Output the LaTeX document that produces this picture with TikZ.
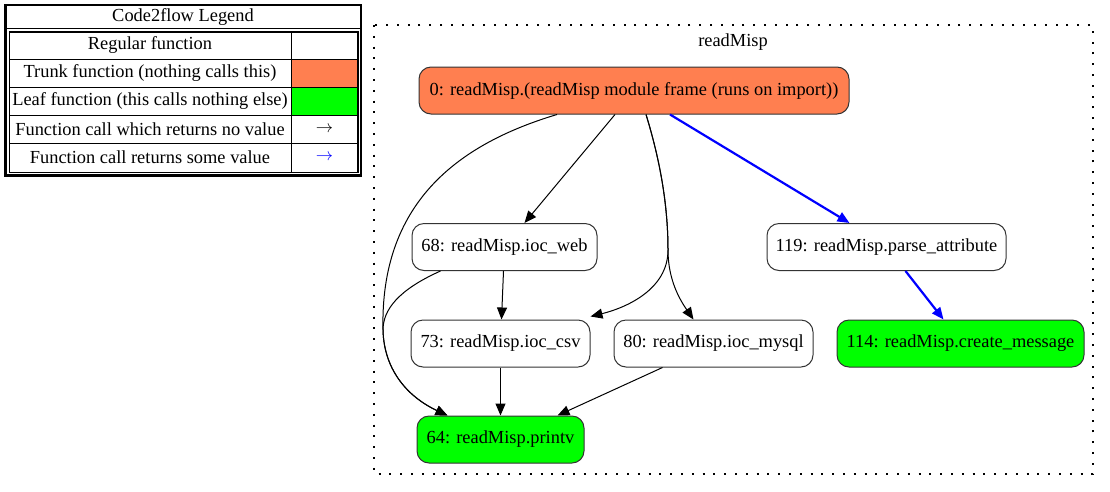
\documentclass[tikz,border=0pt]{standalone}
\usepackage{fontspec}
\setmainfont{Liberation Serif}
\usetikzlibrary{arrows.meta,positioning}
\definecolor{trunk}{HTML}{FF7F50}
\definecolor{leaf}{HTML}{00FF00}
\tikzset{
  func/.style={draw, black!80, text=black, line width=1pt, rounded corners=12pt,
    minimum height=47pt, inner sep=0pt, font=\fontsize{18.4}{21}\selectfont},
  call/.style={-{Triangle[length=12pt,width=10pt]}, line width=1pt},
  retcall/.style={call, blue, line width=2.2pt},
  legtext/.style={inner sep=0pt, font=\fontsize{18.4}{21}\selectfont},
}

\begin{document}
\begin{tikzpicture}[x=1pt, y=-1pt]
  \useasboundingbox (0,0) rectangle (1110,491);
  % legend
  \draw[line width=2.5pt] (5.5,5) rectangle (361,175.5);
  \draw[line width=1pt] (6,28.5) -- (360,28.5);
  \node[legtext] (legtitle) at (183,17.5) {Code2flow Legend};
  \draw[line width=1.8pt] (9.5,32) rectangle (358,172.5);
  \foreach \y in {59,87,115,143} \draw[line width=1pt] (9.5,\y) -- (358,\y);
  \draw[line width=1pt] (291,32) -- (291,172.5);
  \fill[trunk] (291.5,59.5) rectangle (357,86.5);
  \fill[leaf] (291.5,87.5) rectangle (357,114.5);
  \node[legtext] (reg) at (150,45) {Regular function};
  \node[legtext] (trk) at (150,73) {Trunk function (nothing calls this)};
  \node[legtext] (lf) at (150,101) {Leaf function (this calls nothing else)};
  \node[legtext] (noval) at (150,129) {Function call which returns no value};
  \node[legtext] (val) at (150,157.5) {Function call returns some value};
  \node[legtext] (novalarr) at (324.5,129) {$\rightarrow$};
  \node[legtext, text=blue] (valarr) at (324.5,157.5) {$\rightarrow$};

  % cluster
  \draw[line width=1.3pt, dash pattern=on 2pt off 8.8pt] (374,25) rectangle (1093,474);
  \node[legtext] (mod) at (733,42) {readMisp};

  \node[func, fill=trunk, minimum width=430pt] (n0) at (634,90.5)
    {0: readMisp.(readMisp module frame (runs on import))};
  \node[func, minimum width=185pt] (n68) at (504.5,247) {68: readMisp.ioc\_web};
  \node[func, minimum width=239pt] (n119) at (886.5,247) {119: readMisp.parse\_attribute};
  \node[func, minimum width=179pt] (n73) at (500.5,343.5) {73: readMisp.ioc\_csv};
  \node[func, minimum width=199pt] (n80) at (713.5,343.5) {80: readMisp.ioc\_mysql};
  \node[func, fill=leaf, minimum width=247pt] (n114) at (960.5,343.5) {114: readMisp.create\_message};
  \node[func, fill=leaf, minimum width=167pt] (n64) at (500.5,439.5) {64: readMisp.printv};

  \draw[call] ([xshift=-19pt]n0.south) -- ([xshift=20pt]n68.north);
  \draw[retcall] ([xshift=36pt]n0.south) -- ([xshift=-37pt]n119.north);
  \draw[call] ([xshift=-77pt]n0.south) .. controls (455,145) and (380,205) .. (383,330)
    .. controls (384,372) and (410,398) .. ([xshift=-53pt]n64.north);
  \draw[call] ([xshift=-64pt]n68.south) .. controls (398,290) and (383,310) .. (383,330)
    .. controls (384,372) and (410,398) .. ([xshift=-53pt]n64.north);
  \draw[call] ([xshift=12pt]n0.south) .. controls (660,160) and (668,205) .. (668,250)
    .. controls (668,290) and (625,308) .. ([yshift=3pt]n73.north east);
  \draw[call] ([xshift=12pt]n0.south) .. controls (660,160) and (668,205) .. (668,250)
    .. controls (668,280) and (680,300) .. ([xshift=-20pt]n80.north);
  \draw[call] ([xshift=-1pt]n68.south) -- ([xshift=1pt]n73.north);
  \draw[call] (n73.south) -- (n64.north);
  \draw[call] ([xshift=-51pt]n80.south) -- ([xshift=57pt]n64.north);
  \draw[retcall] ([xshift=19pt]n119.south) -- ([xshift=-17pt]n114.north);
\end{tikzpicture}
\end{document}
